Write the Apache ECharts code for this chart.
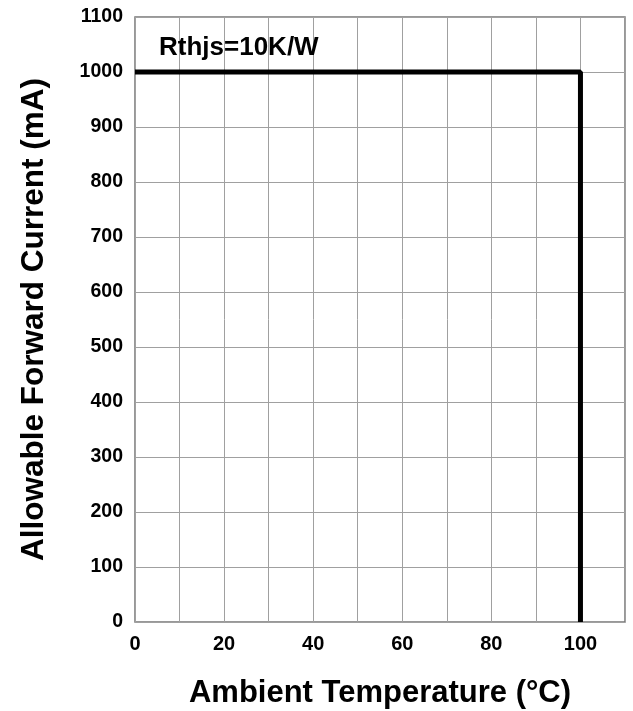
<!DOCTYPE html>
<html><head><meta charset="utf-8">
<script src="https://cdn.jsdelivr.net/npm/echarts@6/dist/echarts.min.js"></script>
<style>html,body{margin:0;padding:0;background:#fff}#c{width:633px;height:711px}</style>
</head><body><div id="c"></div>
<script>
const temps = [0, 100, 100];
const currents = [1000, 1000, 0];
const xLabelVals = [0, 20, 40, 60, 80, 100];
const annotation = 'Rthjs=10K/W';
const xTitle = 'Ambient Temperature (°C)';
const yTitle = 'Allowable Forward Current (mA)';

const chart = echarts.init(document.getElementById('c'), null, {renderer: 'canvas'});
const font = 'Liberation Sans, Arial, sans-serif';
chart.setOption({
  animation: false,
  backgroundColor: '#fff',
  title: {text: annotation, left: 159, top: 35, padding: 0, textStyle: {fontFamily: font, fontWeight: 'bold', fontSize: 26, color: '#000'}},
  grid: {left: 135, right: 8, top: 17, bottom: 89, show: true, borderColor: '#777', borderWidth: 1.5,
    outerBoundsMode: 'none', containLabel: false},
  xAxis: {
    type: 'value', min: 0, max: 110, interval: 10,
    name: xTitle, nameLocation: 'middle', nameGap: 56,
    nameTextStyle: {fontFamily: font, fontWeight: 'bold', fontSize: 31, color: '#000'},
    axisLine: {show: false}, axisTick: {show: false},
    splitLine: {show: true, lineStyle: {color: '#a0a0a0', width: 1}},
    axisLabel: {fontFamily: font, fontWeight: 'bold', fontSize: 20, color: '#000', margin: 12,
      formatter: v => xLabelVals.includes(v) ? String(v) : ''}
  },
  yAxis: {
    type: 'value', min: 0, max: 1100, interval: 100,
    name: yTitle, nameLocation: 'middle', nameGap: 85,
    nameTextStyle: {fontFamily: font, fontWeight: 'bold', fontSize: 31.5, color: '#000'},
    axisLine: {show: false}, axisTick: {show: false},
    splitLine: {show: true, lineStyle: {color: '#a0a0a0', width: 1}},
    axisLabel: {fontFamily: font, fontWeight: 'bold', fontSize: 19.5, color: '#000', margin: 12,
      formatter: v => String(v)}
  },
  series: [{
    type: 'line', data: temps.map((t, i) => [t, currents[i]]),
    symbol: 'none', lineStyle: {color: '#000', width: 5}, clip: false
  }]
});
</script></body></html>
